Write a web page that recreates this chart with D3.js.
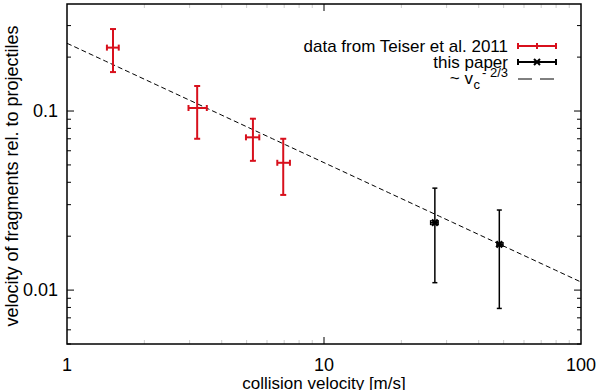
<!DOCTYPE html>
<html>
<head>
<meta charset="utf-8">
<script src="https://cdn.jsdelivr.net/npm/d3@7"></script>
<style>
  body { margin: 0; background: #fff; }
  svg { font-family: "Liberation Sans", Arial, sans-serif; }
</style>
</head>
<body>
<svg id="drawing_region"></svg>
<script>
// Teiser et al. 2011 (red)
const teiserV    = [1.51, 3.21, 5.29, 6.94];
const teiserVlo  = [1.43, 2.97, 4.97, 6.58];
const teiserVhi  = [1.59, 3.50, 5.60, 7.37];
const teiserF    = [0.226, 0.104, 0.0713, 0.0514];
const teiserFlo  = [0.165, 0.070, 0.0527, 0.034];
const teiserFhi  = [0.287, 0.138, 0.0906, 0.070];

// this paper (black)
const paperV    = [27.0, 48.1];
const paperVlo  = [26.0, 47.1];
const paperVhi  = [27.8, 49.7];
const paperF    = [0.0238, 0.018];
const paperFlo  = [0.011, 0.0079];
const paperFhi  = [0.0371, 0.028];

// power law fit ~ v^(-2/3)
const fitA = 0.239;
const fitExp = -2 / 3;

const xTicks = [1, 10, 100];
const yTicks = [0.01, 0.1];
const legendLabels = ["data from Teiser et al. 2011", "this paper"];

const width = 600, height = 390;
const margin = {top: 4, right: 19, bottom: 46, left: 67};
const red = "#d8101c";

const svg = d3.select('#drawing_region')
    .attr('width', width)
    .attr('height', height);

const inner_width = width - margin.left - margin.right;
const inner_height = height - margin.top - margin.bottom;

const chart = svg.append('g')
    .attr('transform', `translate(${margin.left}, ${margin.top})`);

const xscale = d3.scaleLog().domain([1, 100]).range([0, inner_width]);
const yscale = d3.scaleLog().domain([0.005, 0.396]).range([inner_height, 0]);

// minor ticks
const xMinor = [];
for (let d = 1; d < 100; d *= 10)
    for (let k = 2; k <= 9; k++) xMinor.push(d * k);
const yMinor = [];
for (let d = 0.001; d < 1; d *= 10)
    for (let k = 2; k <= 9; k++) {
        const v = d * k;
        if (v >= 0.005 && v <= 0.396) yMinor.push(v);
    }

// y ticks (left & right, inside)
[0, inner_width].forEach((x0, i) => {
    const dir = i === 0 ? 1 : -1;
    chart.selectAll(null).data(yTicks).enter().append('line')
        .attr('x1', x0).attr('x2', x0 + dir * 7)
        .attr('y1', d => yscale(d)).attr('y2', d => yscale(d))
        .attr('stroke', '#000').attr('stroke-width', 1);
    chart.selectAll(null).data(yMinor).enter().append('line')
        .attr('x1', x0).attr('x2', x0 + dir * 4)
        .attr('y1', d => yscale(d)).attr('y2', d => yscale(d))
        .attr('stroke', '#000').attr('stroke-width', 1);
});

// x ticks (bottom & top, inside, faint)
[inner_height, 0].forEach((y0, i) => {
    const dir = i === 0 ? -1 : 1;
    chart.selectAll(null).data(xMinor).enter().append('line')
        .attr('x1', d => xscale(d)).attr('x2', d => xscale(d))
        .attr('y1', y0).attr('y2', y0 + dir * 4)
        .attr('stroke', '#ccc').attr('stroke-width', 1);
    chart.selectAll(null).data([10]).enter().append('line')
        .attr('x1', d => xscale(d)).attr('x2', d => xscale(d))
        .attr('y1', y0).attr('y2', y0 + dir * 7)
        .attr('stroke', '#000').attr('stroke-width', 1);
});

// frame
chart.append('rect')
    .attr('x', 0).attr('y', 0)
    .attr('width', inner_width).attr('height', inner_height)
    .attr('fill', 'none').attr('stroke', '#000').attr('stroke-width', 1.5);

// tick labels
chart.selectAll('.xlab').data(xTicks).enter().append('text')
    .attr('x', d => xscale(d)).attr('y', inner_height + 27)
    .attr('text-anchor', 'middle').attr('font-size', '18px')
    .text(d => d);
chart.selectAll('.ylab').data(yTicks).enter().append('text')
    .attr('x', -9).attr('y', d => yscale(d) + 6)
    .attr('text-anchor', 'end').attr('font-size', '18px')
    .text(d => d);

// axis labels
svg.append('text')
    .attr('x', margin.left + xscale(10)).attr('y', 389)
    .attr('text-anchor', 'middle').attr('font-size', '17px')
    .text('collision velocity [m/s]');
svg.append('text')
    .attr('transform', `translate(18, ${margin.top + inner_height / 2 + 2}) rotate(-90)`)
    .attr('text-anchor', 'middle').attr('font-size', '18px')
    .text('velocity of fragments rel. to projectiles');

// fit line
const fitX = d3.range(0, 2.001, 0.05).map(e => Math.pow(10, e));
chart.append('path')
    .datum(fitX)
    .attr('d', d3.line().x(d => xscale(d)).y(d => yscale(fitA * Math.pow(d, fitExp))))
    .attr('fill', 'none').attr('stroke', '#000').attr('stroke-width', 1)
    .attr('stroke-dasharray', '5,3');

// error bars
function errorBars(v, vlo, vhi, f, flo, fhi, color, sw, cap) {
    const g = chart.append('g').attr('stroke', color).attr('stroke-width', sw);
    v.forEach((vx, i) => {
        const cx = xscale(vx), cy = yscale(f[i]);
        const y1 = yscale(fhi[i]), y2 = yscale(flo[i]);
        const x1 = xscale(vlo[i]), x2 = xscale(vhi[i]);
        g.append('line').attr('x1', cx).attr('x2', cx).attr('y1', y1).attr('y2', y2);
        g.append('line').attr('x1', cx - cap).attr('x2', cx + cap).attr('y1', y1).attr('y2', y1);
        g.append('line').attr('x1', cx - cap).attr('x2', cx + cap).attr('y1', y2).attr('y2', y2);
        g.append('line').attr('x1', x1).attr('x2', x2).attr('y1', cy).attr('y2', cy);
        g.append('line').attr('x1', x1).attr('x2', x1).attr('y1', cy - cap).attr('y2', cy + cap);
        g.append('line').attr('x1', x2).attr('x2', x2).attr('y1', cy - cap).attr('y2', cy + cap);
    });
    return g;
}
errorBars(teiserV, teiserVlo, teiserVhi, teiserF, teiserFlo, teiserFhi, red, 2, 3);
const pg = errorBars(paperV, paperVlo, paperVhi, paperF, paperFlo, paperFhi, '#000', 1.5, 2.5);
paperV.forEach((vx, i) => {
    const cx = xscale(vx), cy = yscale(paperF[i]);
    pg.append('path')
        .attr('d', `M${cx - 3},${cy - 3}L${cx + 3},${cy + 3}M${cx - 3},${cy + 3}L${cx + 3},${cy - 3}`)
        .attr('stroke-width', 2.5);
});

// legend
const lx1 = 518 - margin.left, lx2 = 556 - margin.left;
const ly = [46, 62, 79].map(y => y - margin.top);
const tx = 508 - margin.left;
const legend = chart.append('g');
legendLabels.forEach((t, i) => {
    legend.append('text')
        .attr('x', tx).attr('y', ly[i] + 6)
        .attr('text-anchor', 'end').attr('font-size', '17px')
        .text(t);
});
legend.append('line').attr('x1', lx1).attr('x2', lx2).attr('y1', ly[0]).attr('y2', ly[0])
    .attr('stroke', red).attr('stroke-width', 2);
[lx1, (lx1 + lx2) / 2, lx2].forEach(x => legend.append('line').attr('x1', x).attr('x2', x).attr('y1', ly[0] - 3).attr('y2', ly[0] + 3)
    .attr('stroke', red).attr('stroke-width', 2));
legend.append('line').attr('x1', lx1).attr('x2', lx2).attr('y1', ly[1]).attr('y2', ly[1])
    .attr('stroke', '#000').attr('stroke-width', 2);
[lx1, lx2].forEach(x => legend.append('line').attr('x1', x).attr('x2', x).attr('y1', ly[1] - 3).attr('y2', ly[1] + 3)
    .attr('stroke', '#000').attr('stroke-width', 2));
const mx = (lx1 + lx2) / 2;
legend.append('path')
    .attr('d', `M${mx - 3},${ly[1] - 3}L${mx + 3},${ly[1] + 3}M${mx - 3},${ly[1] + 3}L${mx + 3},${ly[1] - 3}`)
    .attr('stroke', '#000').attr('stroke-width', 2);
legend.append('line').attr('x1', lx1).attr('x2', lx2).attr('y1', ly[2]).attr('y2', ly[2])
    .attr('stroke', '#000').attr('stroke-width', 1).attr('stroke-dasharray', '14,8');
// "~ v_c^-2/3" built from separate pieces so sub/superscripts do not collide
const supText = legend.append('text')
    .attr('x', tx).attr('y', ly[2] - 2)
    .attr('text-anchor', 'end').attr('font-size', '13px')
    .text('- 2/3');
const supW = supText.node().getComputedTextLength();
legend.append('text')
    .attr('x', tx - supW - 2).attr('y', ly[2] + 10)
    .attr('text-anchor', 'end').attr('font-size', '13px')
    .text('c');
legend.append('text')
    .attr('x', tx - supW - 9).attr('y', ly[2] + 5)
    .attr('text-anchor', 'end').attr('font-size', '17px')
    .text('~ v');
</script>
</body>
</html>
